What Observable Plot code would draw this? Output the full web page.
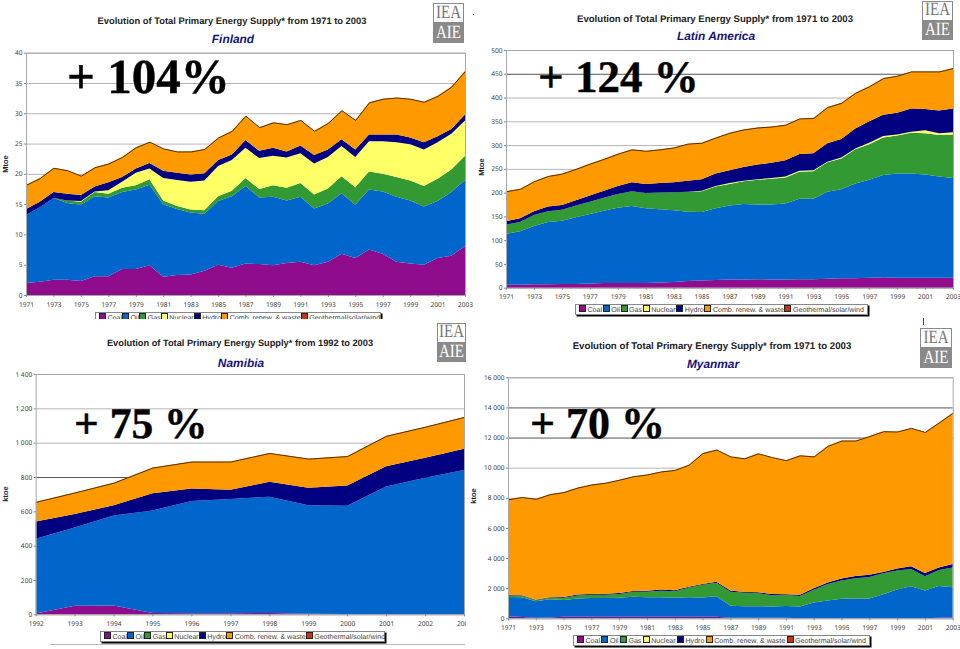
<!DOCTYPE html>
<html><head><meta charset="utf-8">
<style>
html,body{margin:0;padding:0;background:#fff;width:960px;height:649px;overflow:hidden;font-family:"Liberation Sans",Arial,sans-serif;text-rendering:geometricPrecision}
.abs{position:absolute}
.title{font-weight:bold;color:#222;white-space:nowrap;transform:translateX(-50%)}
.sub{font-weight:bold;font-style:italic;font-size:11.9px;color:#14147a;white-space:nowrap;transform:translateX(-50%)}
.big{font-family:"Liberation Serif",serif;font-weight:bold;color:#000;white-space:pre;line-height:1;-webkit-text-stroke:.4px #000}
.unit{font-weight:bold;font-size:7.5px;color:#222;transform:translate(-50%,-50%) rotate(-90deg)}
.legend{display:flex;align-items:center;justify-content:space-between;box-sizing:border-box;background:#fff;border:1px solid #888;box-shadow:1.5px 1.5px 0 #000;font-size:7.1px;color:#444;padding:0 3px;white-space:nowrap}
.legend span{flex:none}
.legend i{display:inline-block;width:5px;height:5px;border:.5px solid #222;margin-right:1.5px;vertical-align:-0.5px}
.clip{overflow:hidden;position:absolute}
.logo{box-sizing:border-box}
.logo>div{height:50%;box-sizing:border-box;display:flex;align-items:center;justify-content:center;font-family:"Liberation Serif",serif;font-size:15px;line-height:1;overflow:hidden}
.logo span{display:block;transform:scale(1,1.25)}
.logo .t{border:1.5px solid #8a8a8a;color:#777;background:#fff}
.logo .b{background:#8a8a8a;color:#fff}
svg{position:absolute}
</style>
<script src="https://cdn.jsdelivr.net/npm/d3@7"></script>
<script src="https://cdn.jsdelivr.net/npm/@observablehq/plot@0.6"></script>
</head><body>
<div id="root"></div>
<script>
const seriesNames=["Coal","Oil","Gas","Nuclear","Hydro","Comb. renew. & waste","Geothermal/solar/wind"];
const seriesColors=["#8f0d8c","#0066cc","#339933","#ffff66","#000080","#ff9900","#cc3311"];

const finlandCoal=[2.0,2.2,2.5,2.5,2.3,3.1,3.1,4.3,4.3,4.9,3.0,3.3,3.4,4.0,5.0,4.5,5.2,5.1,4.9,5.3,5.5,4.9,5.5,6.8,6.1,7.5,6.8,5.5,5.2,5.0,6.1,6.5,8.1];
const finlandOilTop=[13.2,14.5,16.0,15.2,14.9,16.3,16.1,17.0,17.4,18.2,15.0,14.2,13.6,13.4,15.5,16.3,18.0,16.1,16.2,15.6,16.2,14.3,15.1,16.8,14.9,17.4,17.1,16.2,15.6,14.6,15.5,17.0,19.0];
const finlandGasTop=[13.2,14.5,16.0,15.6,15.4,17.0,16.7,17.7,18.1,19.1,15.6,14.7,14.1,14.0,16.3,17.2,19.3,17.5,18.1,17.7,18.5,16.6,17.6,19.6,17.8,20.4,20.0,19.5,18.9,18.0,19.2,20.7,23.0];
const finlandNuclearTop=[13.2,14.5,16.0,15.6,15.5,17.1,17.3,18.7,20.2,20.9,19.3,19.0,18.7,18.9,21.3,22.3,24.3,22.6,23.0,22.7,23.4,21.7,22.8,24.6,22.8,25.4,25.4,25.2,24.9,24.0,25.2,26.6,28.8];
const finlandHydroTop=[14.2,15.4,17.0,16.7,16.5,17.9,18.6,19.5,20.9,21.8,20.5,20.2,19.9,20.1,22.3,23.2,25.6,23.8,24.3,23.7,24.7,23.1,24.0,25.7,24.0,26.5,26.5,26.5,26.0,25.2,26.2,27.4,29.8];
const finlandTotal=[18.2,19.3,21.0,20.6,19.7,21.1,21.7,22.8,24.4,25.3,24.2,23.7,23.7,24.1,26.0,27.1,29.6,27.7,28.5,28.2,28.9,27.1,28.4,30.5,28.9,31.8,32.4,32.6,32.4,31.9,32.9,34.4,37.0];

const latamCoal=[6,6,7,7,8,8,9,10,10,10,10,11,12,14,15,16,17,17,18,17,17,18,18,19,20,20,21,22,21,21,21,21,21];
const latamOilTop=[113,119,130,138,141,148,155,162,168,172,167,165,163,160,159,167,173,176,175,175,177,187,187,202,207,219,227,237,240,240,238,234,231];
const latamGasTop=[133,138,153,161,164,173,181,189,197,203,199,200,201,202,203,213,218,224,227,229,232,244,245,264,272,291,302,316,320,326,325,321,322];
const latamNuclearTop=[133,138,153,161,164,173,181,189,197,203,199,200,201,202,204,214,220,225,228,231,234,246,247,265,274,293,305,319,322,328,331,325,327];
const latamHydroTop=[140,146,161,171,174,184,194,204,214,222,218,220,222,225,228,240,247,254,259,263,268,281,283,304,313,335,350,364,368,377,376,373,377];
const latamTotal=[203,208,224,235,240,250,261,271,282,291,288,291,295,303,305,316,326,333,337,339,343,356,357,380,389,410,424,441,446,455,455,455,462];

const namibiaCoal=[5,50,52,8,6,6,8,3,2,2,2,2];
const namibiaOilTop=[440,505,575,605,660,672,685,635,632,745,795,840];
const namibiaHydroTop=[540,585,635,705,733,725,772,738,750,862,912,965];
const namibiaTotal=[655,710,767,855,890,890,940,907,922,1040,1093,1150];

const myanmarCoal=[130,80,30,60,100,110,110,110,110,110,110,110,110,110,110,110,30,30,30,30,30,10,10,10,10,10,10,10,10,10,10,30,60];
const myanmarOilTop=[1420,1400,1130,1260,1210,1310,1350,1350,1370,1430,1400,1400,1370,1400,1380,1460,830,800,800,790,810,790,1050,1180,1300,1320,1310,1590,1920,2120,1850,2150,2060];
const myanmarGasTop=[1520,1500,1200,1370,1370,1520,1570,1570,1620,1760,1760,1830,1800,2040,2220,2360,1760,1690,1670,1530,1540,1480,1900,2270,2510,2660,2750,2990,3180,3280,2800,3200,3380];
const myanmarHydroTop=[1540,1530,1230,1400,1420,1580,1620,1630,1680,1820,1830,1910,1870,2090,2270,2430,1840,1750,1730,1610,1600,1570,2000,2380,2650,2810,2890,3070,3300,3450,3000,3370,3600];
const myanmarTotal=[7900,8050,7930,8240,8380,8680,8880,9000,9200,9430,9550,9750,9850,10200,10970,11200,10750,10620,10950,10700,10500,10820,10750,11450,11800,11800,12100,12420,12400,12640,12370,13000,13650];

const oddYears=d3.range(1971,2004,2);
const panels=[
 {name:"Finland",range:"1971 to 2003",first:1971,unit:"Mtoe",yMax:40,yStep:5,xTicks:oddYears,
  tops:[[0,finlandCoal],[1,finlandOilTop],[2,finlandGasTop],[3,finlandNuclearTop],[4,finlandHydroTop],[5,finlandTotal]],
  frame:[26,52.7,465,295],svg:[0,46,475,265],titleX:232,titleY:16,titleSize:9.35,subX:233,subY:32,big:"+ 104%",bigX:67,bigY:52,bigSize:49,
  unitXY:[5,164],legend:[95,312,286,11],legendClip:319,logo:[433,3,31,40],grid:"#b5b5b5",dark:[]},
 {name:"Latin America",range:"1971 to 2003",first:1971,unit:"Mtoe",yMax:500,yStep:50,xTicks:oddYears,
  tops:[[0,latamCoal],[1,latamOilTop],[2,latamGasTop],[3,latamNuclearTop],[4,latamHydroTop],[5,latamTotal]],
  frame:[506,50,953,287.7],svg:[480,44,480,258],titleX:715,titleY:14,titleSize:9.6,subX:716,subY:29,big:"+ 124 %",bigX:538,bigY:55,bigSize:45,
  unitXY:[481,167],legend:[575,304,293,11],logo:[922,1,31,39],grid:"#b5b5b5",dark:[450]},
 {name:"Namibia",range:"1992 to 2003",first:1992,unit:"ktoe",yMax:1400,yStep:200,xTicks:d3.range(1992,2004),
  tops:[[0,namibiaCoal],[1,namibiaOilTop],[4,namibiaHydroTop],[5,namibiaTotal]],
  frame:[35.7,374,464,614.3],svg:[0,368,465.5,262],titleX:240,titleY:338,titleSize:9.25,subX:241,subY:356,big:"+ 75 %",bigX:74,bigY:403,bigSize:43.5,
  unitXY:[5,494],legend:[100,631,285,11],logo:[437,323,29,39],grid:"#b5b5b5",dark:[800]},
 {name:"Myanmar",range:"1971 to 2003",first:1971,unit:"ktoe",yMax:16000,yStep:2000,xTicks:oddYears,
  tops:[[0,myanmarCoal],[1,myanmarOilTop],[2,myanmarGasTop],[4,myanmarHydroTop],[5,myanmarTotal]],
  frame:[508,377.3,952.7,618.3],svg:[474,371,486,263],titleX:712,titleY:341,titleSize:9.7,subX:713,subY:357,big:"+ 70 %",bigX:530,bigY:402,bigSize:44,
  unitXY:[473,496],legend:[573,635,297,11],logo:[920,328,32,40],grid:"#b5b5b5",dark:[14000,12000]}
];

const root=document.getElementById("root");
function add(cls,text,x,y,extra){
  const e=document.createElement("div");e.className="abs "+cls;
  if(text!=null)e.textContent=text;e.style.left=x+"px";e.style.top=y+"px";
  if(extra)Object.assign(e.style,extra);root.appendChild(e);return e;
}
const fmt=v=>d3.format(",")(v).replace(/,/g," ");

for(const p of panels){
  const [fl,ft,fr,fb]=p.frame,[sl,st,sw,sh]=p.svg;
  const years=d3.range(p.first,2004);
  const bands=[];
  p.tops.forEach(([idx,arr],k)=>{
    const below=k?p.tops[k-1][1]:null;
    years.forEach((yr,i)=>bands.push({year:yr,series:seriesNames[idx],low:below?below[i]:0,high:arr[i]}));
  });
  const totals=years.map((yr,i)=>({year:yr,total:p.tops[p.tops.length-1][1][i]}));
  const yt=d3.range(0,p.yMax+1,p.yStep);
  const plot=Plot.plot({
    width:sw,height:sh,
    marginLeft:fl-sl,marginTop:ft-st,marginRight:sl+sw-fr,marginBottom:st+sh-fb,
    style:{overflow:"hidden",maxWidth:"none",background:"transparent",position:"absolute",left:sl+"px",top:st+"px"},
    x:{domain:[p.first,2003],label:null},
    y:{domain:[0,p.yMax],label:null},
    color:{domain:seriesNames,range:seriesColors},
    marks:[
      Plot.ruleY(yt,{stroke:d=>p.dark.includes(d)?"#555":p.grid,strokeWidth:1}),
      Plot.areaY(bands,{x:"year",y1:"low",y2:"high",z:"series",fill:"series",curve:"linear"}),
      Plot.lineY(totals,{x:"year",y:"total",stroke:"#5a2c00",strokeWidth:1}),
      Plot.frame({stroke:"#a8a8a8",strokeWidth:1}),
      Plot.axisX({ticks:p.xTicks,tickFormat:d=>String(d),tickSize:2,tickPadding:4.5,fontSize:6.6,fill:"#444",stroke:"#888",label:null}),
      Plot.axisY({ticks:yt,tickFormat:fmt,tickSize:2,tickPadding:2,fontSize:6.6,fill:"#444",stroke:"#888",label:null})
    ]
  });
  root.appendChild(plot);
  add("title","Evolution of Total Primary Energy Supply* from "+p.range,p.titleX,p.titleY,{fontSize:p.titleSize+"px"});
  add("sub",p.name,p.subX,p.subY);
  add("big",p.big,p.bigX,p.bigY,{fontSize:p.bigSize+"px"});
  add("unit",p.unit,p.unitXY[0],p.unitXY[1]);
  const [lx,ly,lw,lh]=p.legend;
  const holder=add("clip",null,lx,ly,{width:(lw+3)+"px",height:((p.legendClip?p.legendClip-ly:lh+3))+"px"});
  const lg=document.createElement("div");lg.className="legend";lg.style.width=lw+"px";lg.style.height=lh+"px";
  seriesNames.forEach((n,i)=>{const s=document.createElement("span");const sq=document.createElement("i");sq.style.background=seriesColors[i];s.appendChild(sq);s.appendChild(document.createTextNode(n));lg.appendChild(s);});
  holder.appendChild(lg);
  const [gx,gy,gw,gh]=p.logo;
  const logo=add("logo",null,gx,gy,{width:gw+"px",height:gh+"px"});
  logo.innerHTML='<div class="t"><span>IEA</span></div><div class="b"><span>AIE</span></div>';
}
add("",null,50,644,{width:"415px",height:"1px",background:"#bbb"});
add("",null,923,318,{width:"1px",height:"7px",background:"#3a3a9a"});
add("",null,473,14,{width:"1px",height:"1px",background:"#222"});
</script>
</body></html>
